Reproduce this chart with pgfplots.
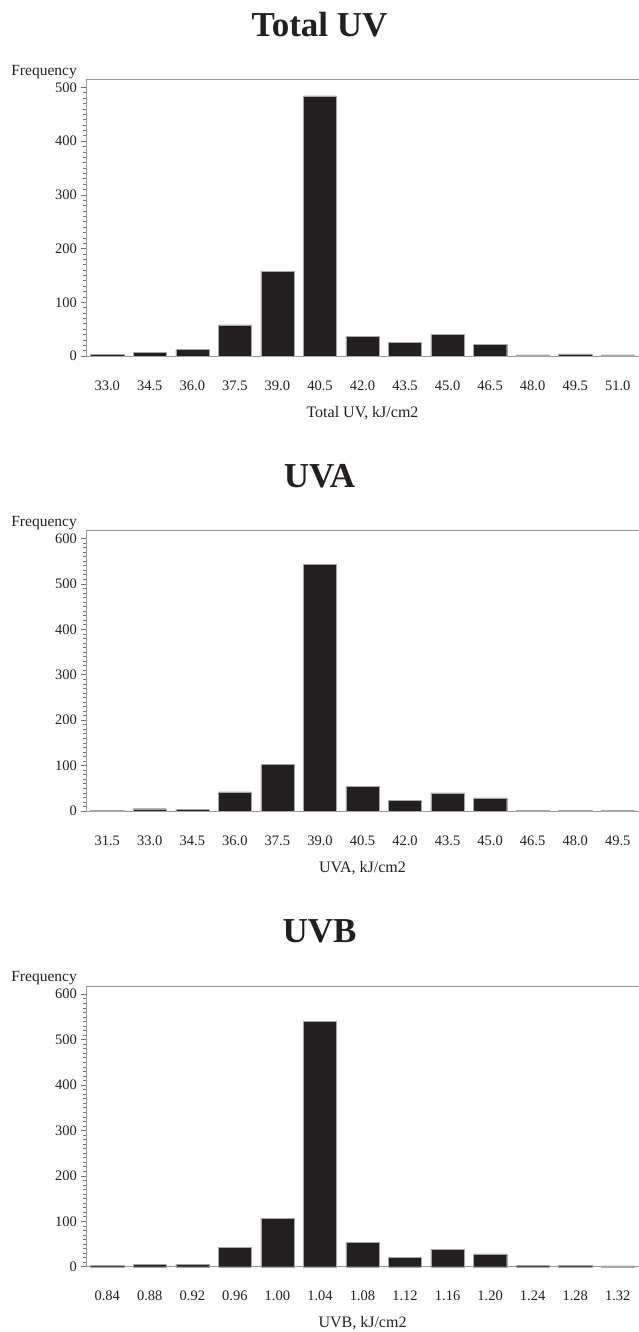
\documentclass[border=0pt]{standalone}
\usepackage{fontspec}
\setmainfont{Liberation Serif}
\usepackage{pgfplots}
\pgfplotsset{compat=1.18}
\definecolor{barc}{HTML}{231F20}
\definecolor{axc}{HTML}{999999}
\pgfplotsset{
  uvhist/.style={
    scale only axis, width=553bp,
    xmin=-0.5, xmax=12.5, ymin=0,
    ybar, bar width=0.78,
    axis x line*=bottom, axis y line*=left,
    axis line style={draw=axc, line width=0.9bp},
    clip=false,
    xtick={0,...,12},
    x tick style={draw=none},
    ytick distance=100, minor y tick num=9,
    y tick style={draw=black!55, line width=0.6bp},
    major tick length=4.5bp, minor tick length=2.5bp,
    tick align=outside,
    /pgf/number format/assume math mode=true,
    tick label style={font=\fontsize{14.5bp}{17bp}\selectfont, text=barc, inner sep=0pt},
    xticklabel style={anchor=base, yshift=-29.5bp},
    yticklabel style={anchor=east, xshift=-4.5bp},
    every axis y label/.style={at={(rel axis cs:0,1)}, anchor=base east, xshift=-9bp, yshift=4.3bp,
      font=\fontsize{15.5bp}{18bp}\selectfont, text=barc, inner sep=0pt},
    every axis x label/.style={at={(rel axis cs:0.5,0)}, anchor=base, yshift=-61bp,
      font=\fontsize{16bp}{19bp}\selectfont, text=barc, inner sep=0pt},
    ylabel={Frequency},
  },
  uvbar/.style={fill=barc, draw=black!35, line width=0.4bp},
}
\begin{document}
\begin{tikzpicture}
\useasboundingbox (0,0) rectangle (639bp,-1332bp);
\tikzset{ttl/.style={anchor=base, font=\fontsize{35bp}{40bp}\selectfont\bfseries, text=barc, inner sep=0pt}}
\node[ttl] at (319.5bp,-36bp) {Total UV};
\node[ttl] at (319.5bp,-487bp) {UVA};
\node[ttl] at (319.5bp,-942.5bp) {UVB};

% Total UV
\begin{axis}[uvhist, at={(86bp,-356bp)}, anchor=south west, height=276.7bp, ymax=515,
  xticklabels={33.0,34.5,36.0,37.5,39.0,40.5,42.0,43.5,45.0,46.5,48.0,49.5,51.0},
  xlabel={Total UV, kJ/cm2}]
\addplot[uvbar] coordinates {(0,3) (1,7) (2,12) (3,58) (4,158) (5,484) (6,37) (7,25) (8,40) (9,22) (10,2) (11,4) (12,2)};
\draw[axc, line width=0.9bp] (rel axis cs:0,1) -- (rel axis cs:1,1);
\end{axis}

% UVA
\begin{axis}[uvhist, at={(86bp,-811bp)}, anchor=south west, height=280.3bp, ymax=617,
  xticklabels={31.5,33.0,34.5,36.0,37.5,39.0,40.5,42.0,43.5,45.0,46.5,48.0,49.5},
  xlabel={UVA, kJ/cm2}]
\addplot[uvbar] coordinates {(0,2) (1,5) (2,4) (3,42) (4,102) (5,543) (6,55) (7,23) (8,40) (9,29) (10,2) (11,2) (12,2)};
\draw[axc, line width=0.9bp] (rel axis cs:0,1) -- (rel axis cs:1,1);
\end{axis}

% UVB
\begin{axis}[uvhist, at={(86bp,-1266.7bp)}, anchor=south west, height=280.7bp, ymax=618,
  xticklabels={0.84,0.88,0.92,0.96,1.00,1.04,1.08,1.12,1.16,1.20,1.24,1.28,1.32},
  xlabel={UVB, kJ/cm2}]
\addplot[uvbar] coordinates {(0,3) (1,5) (2,5) (3,42) (4,107) (5,540) (6,54) (7,21) (8,39) (9,28) (10,3) (11,3) (12,2)};
\draw[axc, line width=0.9bp] (rel axis cs:0,1) -- (rel axis cs:1,1);
\end{axis}
\end{tikzpicture}
\end{document}
